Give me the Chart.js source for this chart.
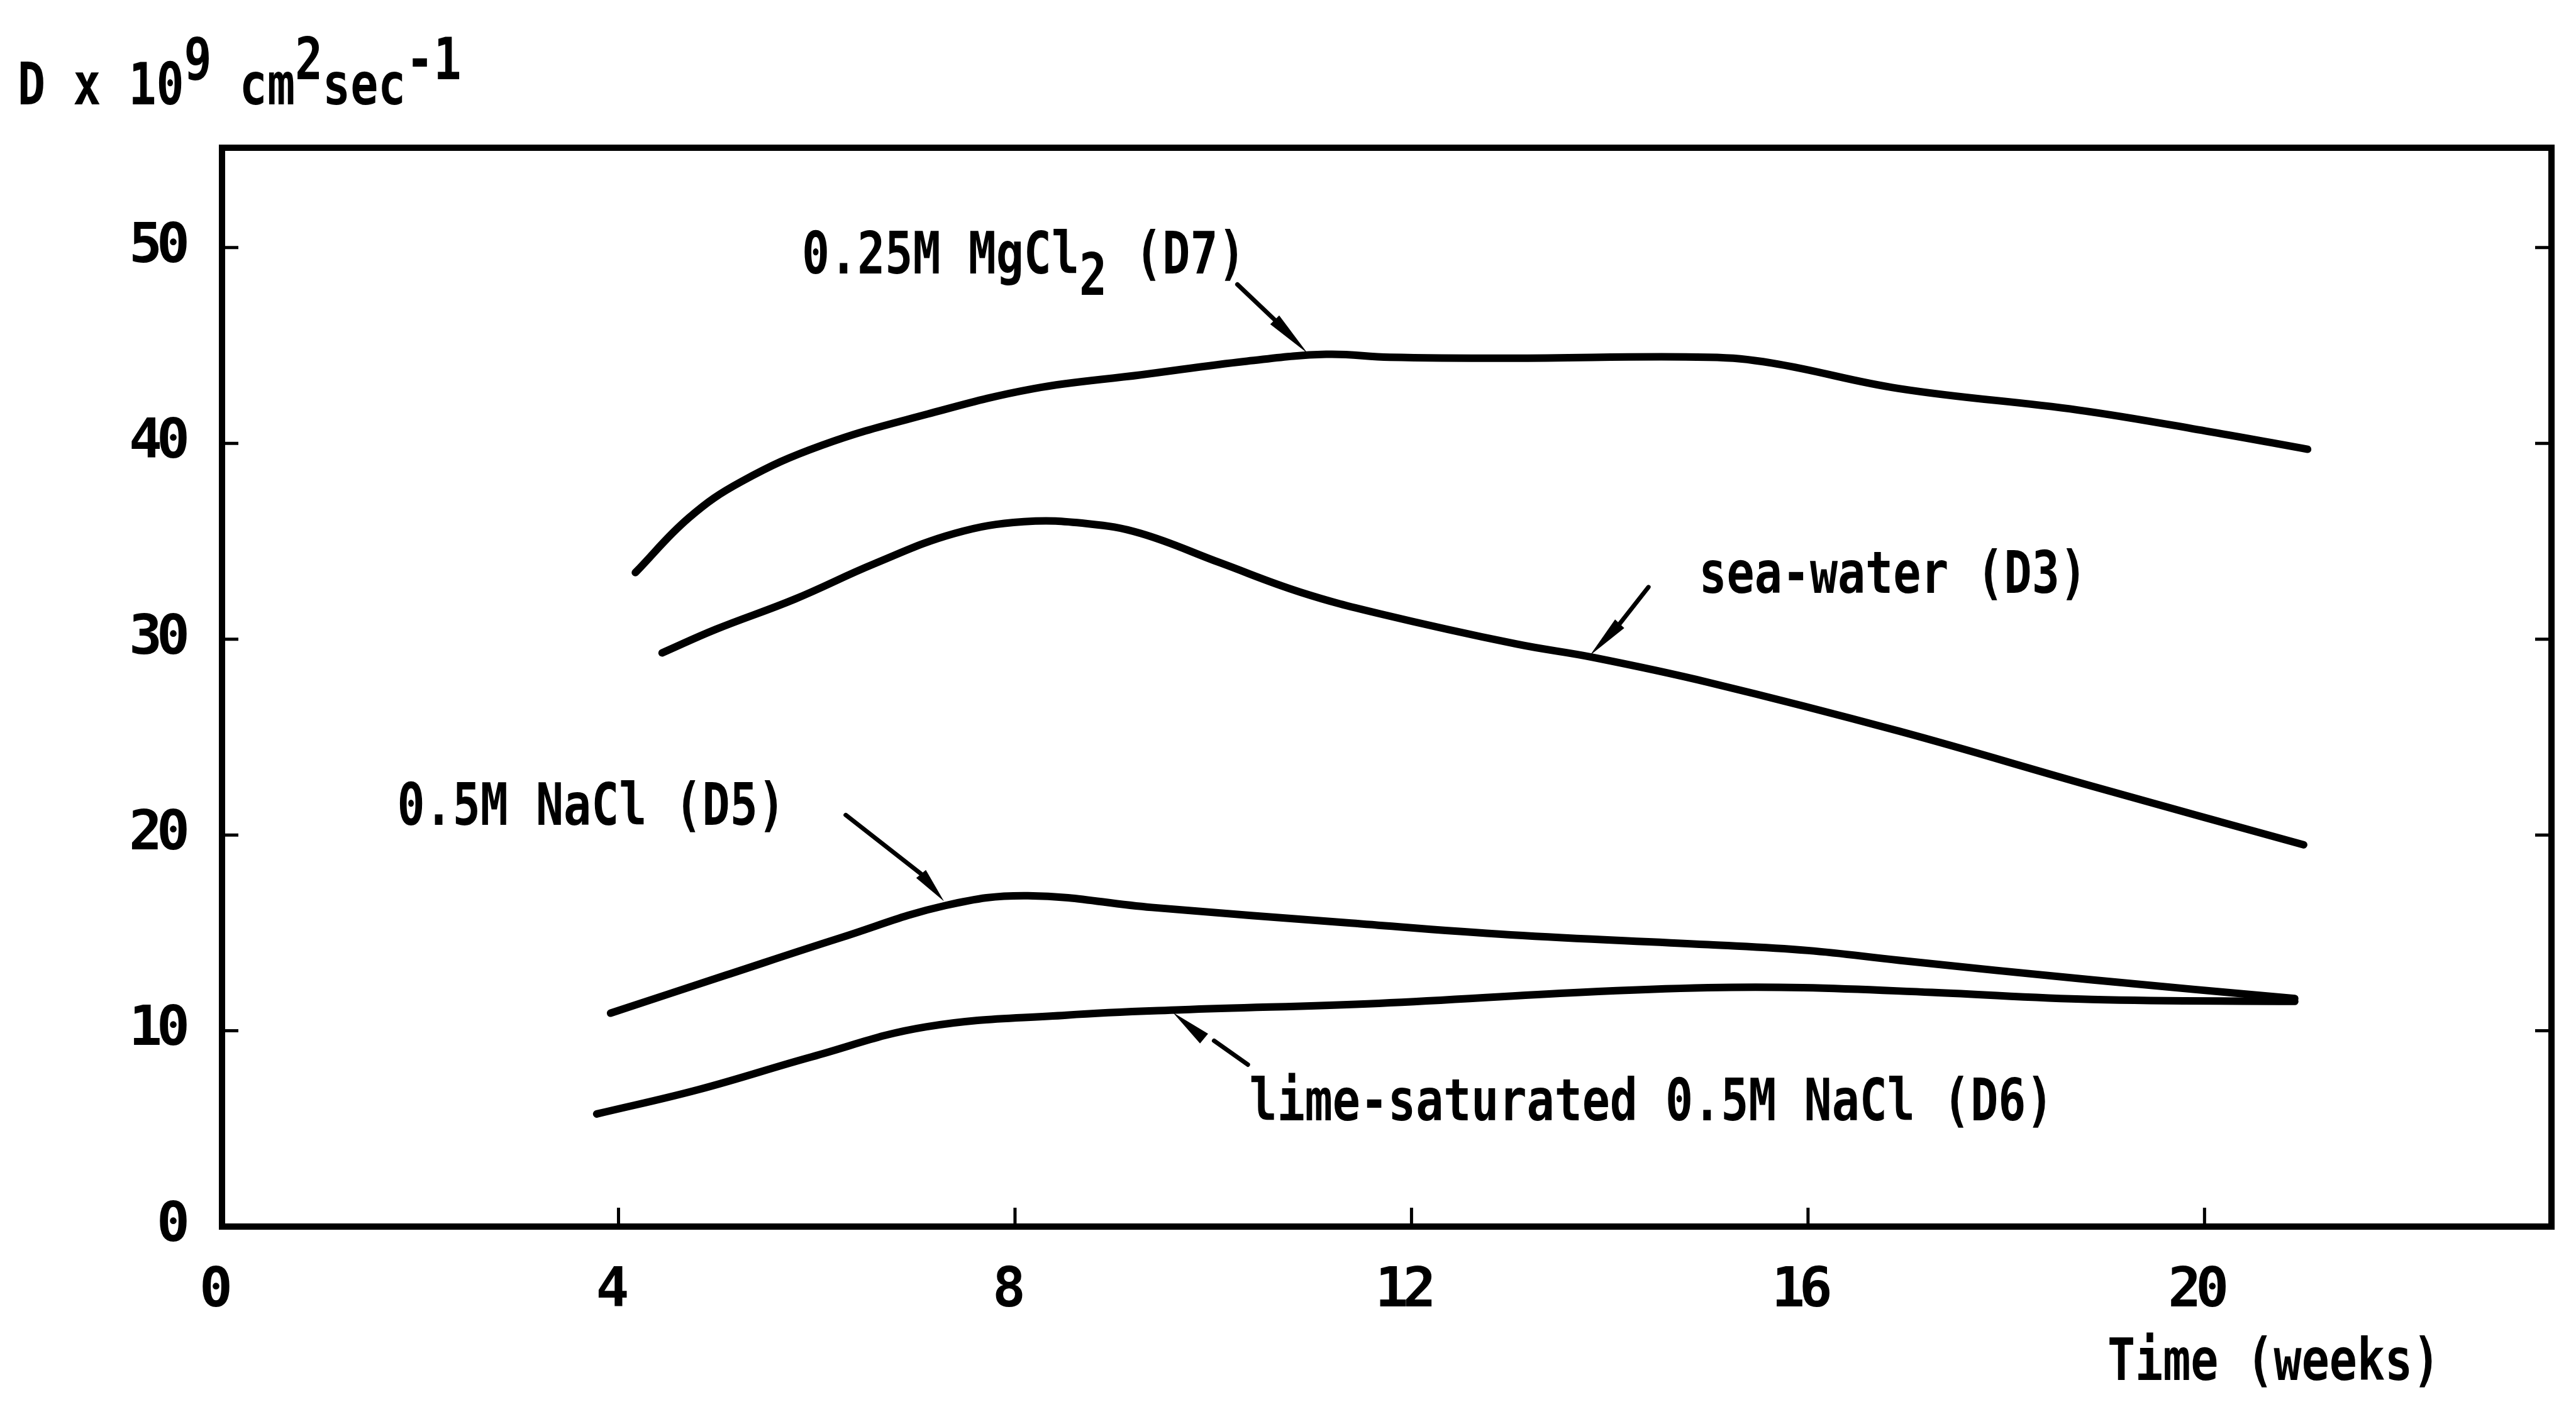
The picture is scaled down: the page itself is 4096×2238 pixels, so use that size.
<!DOCTYPE html>
<html>
<head>
<meta charset="utf-8">
<script src="https://cdn.jsdelivr.net/npm/chart.js@4.4.1/dist/chart.umd.min.js"></script>
<style>
html,body{margin:0;padding:0;background:#fff;overflow:hidden}
#wrap{width:4096px;height:2238px;position:relative}
canvas{display:block}
</style>
</head>
<body>
<div id="wrap"><canvas id="c" width="4096" height="2238"></canvas></div>
<script>
// ---- data ----
const weekTicks = [0, 4, 8, 12, 16, 20];
const dTicks = [0, 10, 20, 30, 40, 50];

const seriesNames = ["0.25M MgCl2 (D7)", "sea-water (D3)", "0.5M NaCl (D5)", "lime-saturated 0.5M NaCl (D6)"];

const mgWeeks = [4.17, 4.71, 5.24, 6.05, 7.12, 8.19, 9.27, 10.34, 11.14, 11.78, 13.0, 14.99, 15.64, 16.92, 18.73, 20.05, 21.04];
const mgD     = [33.4, 36.2, 38.05, 39.9, 41.5, 42.8, 43.5, 44.2, 44.55, 44.4, 44.35, 44.4, 44.1, 42.8, 41.7, 40.6, 39.7];

const seaWeeks = [4.44, 4.98, 5.78, 6.58, 7.39, 8.09, 8.73, 9.27, 10.07, 10.88, 11.68, 13.06, 13.83, 14.99, 16.92, 18.86, 21.0];
const seaD     = [29.3, 30.5, 32.05, 33.85, 35.4, 36.0, 35.9, 35.4, 33.9, 32.4, 31.3, 29.75, 29.07, 27.8, 25.3, 22.5, 19.5];

const naclWeeks = [3.92, 5.09, 6.24, 7.3, 8.13, 9.38, 11.39, 13.0, 14.99, 16.0, 16.92, 18.86, 20.91];
const naclD     = [10.9, 12.85, 14.75, 16.4, 16.9, 16.3, 15.5, 14.9, 14.4, 14.1, 13.6, 12.6, 11.65];

const limeWeeks = [3.78, 4.81, 5.95, 7.1, 8.52, 9.67, 11.67, 13.7, 14.99, 15.95, 17.25, 18.86, 20.91];
const limeD     = [5.75, 7.0, 8.67, 10.2, 10.8, 11.07, 11.4, 11.96, 12.2, 12.2, 11.96, 11.6, 11.5];

// ---- style / layout ----
const FONT = '"DejaVu Sans Mono", "Liberation Mono", monospace';
const TXT_SIZE = 93;      // annotation font size
const TXT_ADV = 44.1;     // monospace advance per char (condensed)

function pts(xs, ys) { return xs.map((x, i) => ({ x: x, y: ys[i] })); }

function lineDs(label, xs, ys) {
  return {
    label: label,
    data: pts(xs, ys),
    showLine: true,
    borderColor: '#000',
    backgroundColor: '#000',
    borderWidth: 12,
    pointRadius: 0,
    pointHoverRadius: 0,
    tension: 0.4,
    borderCapStyle: 'round',
    borderJoinStyle: 'round',
    fill: false
  };
}

function drawMono(ctx, x, y, segs) {
  ctx.save();
  ctx.letterSpacing = '0px';
  ctx.font = 'bold ' + TXT_SIZE + 'px ' + FONT;
  ctx.fillStyle = '#000';
  ctx.textAlign = 'left';
  ctx.textBaseline = 'alphabetic';
  const nat = ctx.measureText('0').width;
  const k = TXT_ADV / nat;
  let cx = x;
  for (const [t, dy] of segs) {
    ctx.save();
    ctx.translate(cx, y + dy);
    ctx.scale(k, 1);
    ctx.fillText(t, 0, 0);
    ctx.restore();
    cx += TXT_ADV * t.length;
  }
  ctx.restore();
}

// annotation labels: [data x, data y] of baseline start
const labelDefs = [
  { at: [5.85, 48.68], segs: [["0.25M MgCl", 0], ["2", 34], [" (D7)", 0]] },
  { at: [14.90, 32.37], segs: [["sea-water (D3)", 0]] },
  { at: [1.767, 20.52], segs: [["0.5M NaCl (D5)", 0]] },
  { at: [10.364, 5.43], segs: [["lime-saturated 0.5M NaCl (D6)", 0]] }
];
// arrows: shaft start, head base, tip (data units)
const arrowDefs = [
  { start: [10.243, 48.12], base: [10.62, 46.31], tip: [10.95, 44.61] },
  { start: [14.39, 32.66], base: [14.10, 30.79], tip: [13.80, 29.17] },
  { start: [6.292, 21.02], base: [7.052, 18.01], tip: [7.283, 16.62] },
  { start: null, base: [9.907, 9.6], tip: [9.593, 10.93], tail: [[10.008, 9.49], [10.349, 8.27]] }
];

const deco = {
  id: 'deco',
  beforeLayout(chart) { chart.ctx.letterSpacing = '-9px'; },
  beforeDraw(chart) {
    const ctx = chart.ctx;
    ctx.save();
    ctx.fillStyle = '#fff';
    ctx.fillRect(0, 0, chart.width, chart.height);
    ctx.restore();
    ctx.letterSpacing = '-9px';
  },
  afterDraw(chart) {
    const ctx = chart.ctx;
    const a = chart.chartArea;
    const xs = chart.scales.x, ys = chart.scales.y;
    const px = v => xs.getPixelForValue(v);
    const py = v => ys.getPixelForValue(v);
    ctx.save();
    ctx.letterSpacing = '0px';
    // frame
    ctx.strokeStyle = '#000';
    ctx.lineWidth = 10;
    ctx.lineJoin = 'miter';
    ctx.strokeRect(a.left, a.top, a.right - a.left, a.bottom - a.top);
    // inward ticks
    ctx.lineWidth = 5;
    ctx.lineCap = 'butt';
    ctx.beginPath();
    for (const v of dTicks) {
      if (v === 0) continue;
      const y = py(v);
      ctx.moveTo(a.left, y); ctx.lineTo(a.left + 26, y);
      ctx.moveTo(a.right, y); ctx.lineTo(a.right - 26, y);
    }
    for (const v of weekTicks) {
      if (v === 0) continue;
      const x = px(v);
      ctx.moveTo(x, a.bottom); ctx.lineTo(x, a.bottom - 30);
    }
    ctx.stroke();

    // arrows
    ctx.fillStyle = '#000';
    ctx.lineCap = 'round';
    for (const ar of arrowDefs) {
      const bx = px(ar.base[0]), by = py(ar.base[1]);
      const tx = px(ar.tip[0]), ty = py(ar.tip[1]);
      ctx.lineWidth = 7;
      if (ar.start) {
        ctx.beginPath();
        ctx.moveTo(px(ar.start[0]), py(ar.start[1]));
        ctx.lineTo(bx, by);
        ctx.stroke();
      }
      if (ar.tail) {
        ctx.beginPath();
        ctx.moveTo(px(ar.tail[0][0]), py(ar.tail[0][1]));
        ctx.lineTo(px(ar.tail[1][0]), py(ar.tail[1][1]));
        ctx.stroke();
      }
      const dx = tx - bx, dy = ty - by;
      const L = Math.hypot(dx, dy);
      const nx = -dy / L, ny = dx / L;
      const hw = 10;
      ctx.beginPath();
      ctx.moveTo(tx, ty);
      ctx.lineTo(bx + nx * hw, by + ny * hw);
      ctx.lineTo(bx - nx * hw, by - ny * hw);
      ctx.closePath();
      ctx.fill();
    }
    ctx.restore();

    // annotation labels
    for (const lb of labelDefs) {
      drawMono(ctx, px(lb.at[0]), py(lb.at[1]), lb.segs);
    }
    // axis titles
    drawMono(ctx, 28, 166, [["D x 10", 0], ["9", -40], [" cm", 0], ["2", -40], ["sec", 0], ["-1", -40]]);
    drawMono(ctx, 3351, 2195, [["Time (weeks)", 0]]);
  }
};

const tickFont = { family: FONT, size: 88, weight: 'bold', lineHeight: 1 };

new Chart(document.getElementById('c'), {
  type: 'scatter',
  data: {
    datasets: [
      lineDs(seriesNames[0], mgWeeks, mgD),
      lineDs(seriesNames[1], seaWeeks, seaD),
      lineDs(seriesNames[2], naclWeeks, naclD),
      lineDs(seriesNames[3], limeWeeks, limeD)
    ]
  },
  options: {
    responsive: false,
    animation: false,
    devicePixelRatio: 1,
    layout: { padding: { top: 235, right: 39, bottom: 0, left: 0 } },
    plugins: { legend: { display: false }, tooltip: { enabled: false }, title: { display: false } },
    events: [],
    scales: {
      x: {
        type: 'linear',
        min: 0, max: 23.5,
        afterFit(s) { s.height = 287; },
        grid: { display: false, drawTicks: false },
        border: { display: true, color: '#000', width: 10 },
        ticks: {
          stepSize: 4, includeBounds: false, autoSkip: false, maxRotation: 0,
          color: '#000', font: tickFont, padding: 60, labelOffset: -14,
          callback: v => weekTicks.includes(v) ? String(v) : ''
        }
      },
      y: {
        type: 'linear',
        min: 0, max: 55.1,
        afterFit(s) { s.width = 353; },
        grid: { display: false, drawTicks: false },
        border: { display: true, color: '#000', width: 10 },
        ticks: {
          stepSize: 10, includeBounds: false, autoSkip: false,
          color: '#000', font: tickFont, padding: 60,
          callback: v => dTicks.includes(v) ? String(v) : ''
        }
      }
    }
  },
  plugins: [deco]
});
</script>
</body>
</html>
